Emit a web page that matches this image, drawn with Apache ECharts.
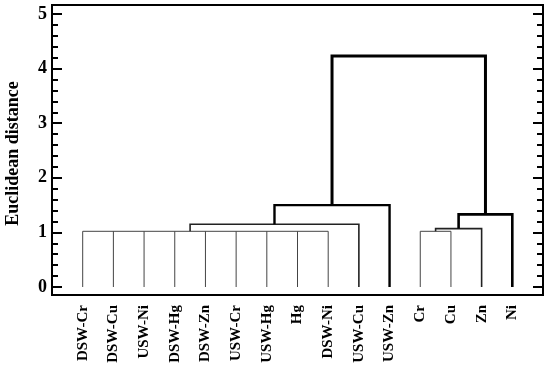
<!DOCTYPE html>
<html>
<head>
<meta charset="utf-8">
<script src="https://cdn.jsdelivr.net/npm/echarts@6/dist/echarts.min.js"></script>
<style>html,body{margin:0;padding:0;background:#fff}#c{width:550px;height:371px}</style>
</head>
<body>
<div id="c"></div>
<script>
// Leaves (in dendrogram order)
var leaves = ['DSW-Cr','DSW-Cu','USW-Ni','DSW-Hg','DSW-Zn','USW-Cr','USW-Hg','Hg','DSW-Ni','USW-Cu','USW-Zn','Cr','Cu','Zn','Ni'];
// Merge nodes: ids continue after leaves (15, 16, ...)
var mergeChildren = [
  [0,1,2,3,4,5,6,7,8], // 15
  [15,9],              // 16
  [16,10],             // 17
  [11,12],             // 18
  [18,13],             // 19
  [19,14],             // 20
  [17,20]              // 21
];
var mergeHeights = [1.02, 1.15, 1.50, 1.02, 1.07, 1.33, 4.23];
// anchor of the flat multi-leaf node (leaf-index units); null = midpoint of children
var mergeAnchor = [3.5, null, null, null, null, null, null];
var yTicks = [0,1,2,3,4,5];

var mergeWidth = [1, 1.6, 2.4, 1, 1.6, 2.6, 3];
var mergeColor = ['#444','#222','#000','#444','#222','#000','#000'];

var pos = leaves.map(function(_, i){ return i; });
var hgt = leaves.map(function(){ return 0; });
var linkData = [];
mergeChildren.forEach(function(ch, k){
  var h = mergeHeights[k];
  var xs = ch.map(function(c){ return pos[c]; });
  var xmin = Math.min.apply(null, xs), xmax = Math.max.apply(null, xs);
  var style = {width: mergeWidth[k], color: mergeColor[k], opacity: 1};
  if (ch.length === 2) {
    linkData.push({coords: [[pos[ch[0]], hgt[ch[0]]], [pos[ch[0]], h], [pos[ch[1]], h], [pos[ch[1]], hgt[ch[1]]]], lineStyle: style});
  } else {
    linkData.push({coords: [[xmin, h], [xmax, h]], lineStyle: style});
    ch.forEach(function(c){
      linkData.push({coords: [[pos[c], hgt[c]], [pos[c], h]], lineStyle: style});
    });
  }
  pos.push(mergeAnchor[k] != null ? mergeAnchor[k] : (xmin + xmax) / 2);
  hgt.push(h);
});

var serif = '"Liberation Serif","Times New Roman",serif';
var chart = echarts.init(document.getElementById('c'), null, {renderer: 'canvas'});
var yAxisCommon = {
  type: 'value', gridIndex: 1, min: 0, max: 5, interval: 1,
  axisLine: {show: false, onZero: false},
  splitLine: {show: false},
  axisTick: {show: true, inside: true, length: 10, lineStyle: {color: '#000', width: 2}},
  minorTick: {show: true, splitNumber: 5, length: 6, lineStyle: {color: '#000', width: 2}},
};
chart.setOption({
  animation: false,
  backgroundColor: '#fff',
  grid: [
    {left: 52, right: 7, top: 5, bottom: 76, show: true, borderColor: '#000', borderWidth: 2, backgroundColor: 'transparent'},
    {left: 52, right: 7, top: 14, bottom: 84, show: false}
  ],
  xAxis: [
    {type: 'value', gridIndex: 0, min: 0, max: 1, show: false},
    {type: 'value', gridIndex: 1, min: -1, max: 15, interval: 1,
     axisLine: {show: false, onZero: false}, axisTick: {show: false}, splitLine: {show: false},
     axisLabel: {rotate: 90, margin: 18, fontFamily: serif, fontWeight: 'bold', fontSize: 15, color: '#000',
       formatter: function(v){ return leaves[v] || ''; }}}
  ],
  yAxis: [
    {type: 'value', gridIndex: 0, min: 0, max: 1, show: false},
    Object.assign({}, yAxisCommon, {position: 'left',
      axisLabel: {margin: 5, fontFamily: serif, fontWeight: 'bold', fontSize: 18, color: '#000',
        formatter: function(v){ return yTicks.indexOf(v) >= 0 ? String(v) : ''; }}}),
    Object.assign({}, yAxisCommon, {position: 'right', axisLabel: {show: false}})
  ],
  graphic: [{
    type: 'text', x: 4, y: 153.5, rotation: Math.PI / 2,
    style: {text: 'Euclidean distance', fontFamily: serif, fontWeight: 'bold', fontSize: 18, fill: '#000',
      align: 'center', verticalAlign: 'top'}
  }],
  series: [{
    type: 'lines', coordinateSystem: 'cartesian2d', xAxisIndex: 1, yAxisIndex: 1,
    polyline: true, silent: true,
    lineStyle: {color: '#000', width: 1, opacity: 1},
    data: linkData
  }]
});
</script>
</body>
</html>
